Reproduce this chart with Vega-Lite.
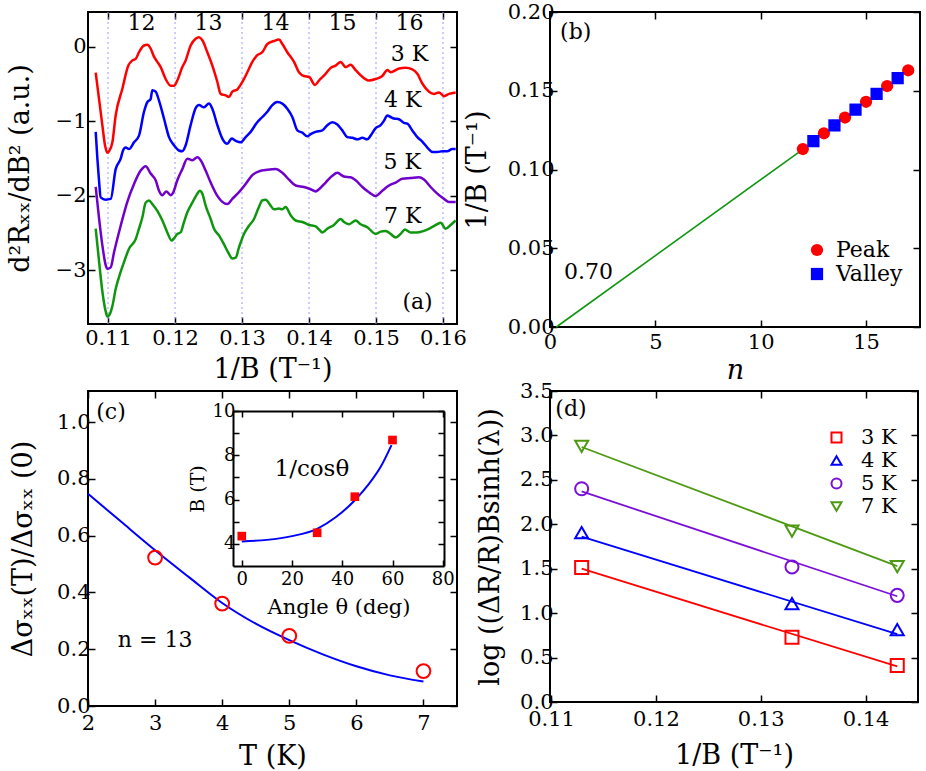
{
"$schema": "https://vega.github.io/schema/vega-lite/v6.json",
"background": "white",
"padding": {"left": 5, "top": 0, "right": 2, "bottom": 2},
"autosize": {"type": "pad"},
"bounds": "flush",
"columns": 2,
"spacing": {"row": 64, "column": 93},
"resolve": {"scale": {"color": "independent", "shape": "independent"}, "legend": {"color": "independent", "shape": "independent"}},
"datasets": {
  "dlines": [
      {"T":"3 K","x":0.11292,"y":1.50},{"T":"3 K","x":0.14302,"y":0.40},
      {"T":"4 K","x":0.11292,"y":1.86},{"T":"4 K","x":0.14302,"y":0.765},
      {"T":"5 K","x":0.11292,"y":2.37},{"T":"5 K","x":0.14302,"y":1.19},
      {"T":"7 K","x":0.11292,"y":2.87},{"T":"7 K","x":0.14302,"y":1.53}]
},
"config": {
  "view": {"stroke": "black", "strokeWidth": 2},
  "axis": {"domain": false, "grid": false, "tickColor": "black", "tickWidth": 1.5, "tickSize": -7, "labelFont": "DejaVu Serif, Liberation Serif, serif", "labelFontSize": 21, "labelColor": "black", "titleFont": "DejaVu Serif, Liberation Serif, serif", "titleFontSize": 27, "titleFontWeight": "normal", "titleColor": "black", "labelFlush": false, "labelOverlap": false, "labelBound": false, "labelPadding": 8, "titlePadding": 6},
  "legend": {"labelFont": "DejaVu Serif, Liberation Serif, serif", "labelColor": "black", "padding": 0},
  "text": {"font": "DejaVu Serif, Liberation Serif, serif", "color": "black"}
},
"concat": [
{
  "width": 369, "height": 312,
  "layer": [
    {"data": {"values": [{"x":0.11},{"x":0.12},{"x":0.13},{"x":0.14},{"x":0.15},{"x":0.16}]},
     "mark": {"type": "rule", "strokeDash": [2,3], "color": "#9a9aff", "strokeWidth": 1},
     "encoding": {"x": {"field": "x", "type": "quantitative", "scale": {"domain": [0.10701,0.16209], "nice": false, "zero": false},
        "axis": {"orient": "bottom", "values": [0.11,0.12,0.13,0.14,0.15,0.16], "format": ".2f", "title": "1/B (T⁻¹)", "labelPadding": 10, "titlePadding": 8}}}},
    {"data": {"values": [
{"s":"3 K","x":0.10816,"y":-0.345},{"s":"3 K","x":0.10866,"y":-0.70},{"s":"3 K","x":0.10915,"y":-1.05},{"s":"3 K","x":0.10955,"y":-1.32},{"s":"3 K","x":0.10990,"y":-1.42},{"s":"3 K","x":0.11015,"y":-1.40},{"s":"3 K","x":0.11065,"y":-1.28},{"s":"3 K","x":0.11114,"y":-0.92},{"s":"3 K","x":0.11214,"y":-0.56},{"s":"3 K","x":0.11303,"y":-0.25},{"s":"3 K","x":0.11363,"y":-0.18},{"s":"3 K","x":0.11413,"y":-0.16},{"s":"3 K","x":0.11462,"y":-0.07},{"s":"3 K","x":0.11537,"y":0.02},{"s":"3 K","x":0.11587,"y":0.03},{"s":"3 K","x":0.11636,"y":-0.02},{"s":"3 K","x":0.11686,"y":-0.13},{"s":"3 K","x":0.11736,"y":-0.20},{"s":"3 K","x":0.11786,"y":-0.27},{"s":"3 K","x":0.11860,"y":-0.43},{"s":"3 K","x":0.11935,"y":-0.52},{"s":"3 K","x":0.11985,"y":-0.52},{"s":"3 K","x":0.12034,"y":-0.45},{"s":"3 K","x":0.12109,"y":-0.27},{"s":"3 K","x":0.12159,"y":-0.18},{"s":"3 K","x":0.12233,"y":0.02},{"s":"3 K","x":0.12308,"y":0.11},{"s":"3 K","x":0.12358,"y":0.13},{"s":"3 K","x":0.12408,"y":0.09},{"s":"3 K","x":0.12482,"y":-0.07},{"s":"3 K","x":0.12557,"y":-0.25},{"s":"3 K","x":0.12632,"y":-0.47},{"s":"3 K","x":0.12681,"y":-0.63},{"s":"3 K","x":0.12756,"y":-0.65},{"s":"3 K","x":0.12806,"y":-0.67},{"s":"3 K","x":0.12855,"y":-0.60},{"s":"3 K","x":0.12930,"y":-0.57},{"s":"3 K","x":0.13005,"y":-0.47},{"s":"3 K","x":0.13079,"y":-0.34},{"s":"3 K","x":0.13154,"y":-0.20},{"s":"3 K","x":0.13228,"y":-0.11},{"s":"3 K","x":0.13303,"y":-0.07},{"s":"3 K","x":0.13378,"y":0.04},{"s":"3 K","x":0.13477,"y":0.08},{"s":"3 K","x":0.13552,"y":0.10},{"s":"3 K","x":0.13602,"y":0.04},{"s":"3 K","x":0.13676,"y":-0.07},{"s":"3 K","x":0.13776,"y":-0.20},{"s":"3 K","x":0.13850,"y":-0.34},{"s":"3 K","x":0.13925,"y":-0.39},{"s":"3 K","x":0.14000,"y":-0.40},{"s":"3 K","x":0.14089,"y":-0.51},{"s":"3 K","x":0.14149,"y":-0.45},{"s":"3 K","x":0.14248,"y":-0.36},{"s":"3 K","x":0.14323,"y":-0.28},{"s":"3 K","x":0.14398,"y":-0.25},{"s":"3 K","x":0.14472,"y":-0.20},{"s":"3 K","x":0.14547,"y":-0.27},{"s":"3 K","x":0.14622,"y":-0.24},{"s":"3 K","x":0.14696,"y":-0.31},{"s":"3 K","x":0.14796,"y":-0.40},{"s":"3 K","x":0.14895,"y":-0.45},{"s":"3 K","x":0.14995,"y":-0.43},{"s":"3 K","x":0.15094,"y":-0.39},{"s":"3 K","x":0.15169,"y":-0.31},{"s":"3 K","x":0.15218,"y":-0.34},{"s":"3 K","x":0.15343,"y":-0.29},{"s":"3 K","x":0.15442,"y":-0.28},{"s":"3 K","x":0.15542,"y":-0.30},{"s":"3 K","x":0.15617,"y":-0.36},{"s":"3 K","x":0.15691,"y":-0.49},{"s":"3 K","x":0.15791,"y":-0.60},{"s":"3 K","x":0.15865,"y":-0.63},{"s":"3 K","x":0.15940,"y":-0.61},{"s":"3 K","x":0.16015,"y":-0.66},{"s":"3 K","x":0.16089,"y":-0.63},{"s":"3 K","x":0.16189,"y":-0.61},
{"s":"4 K","x":0.10816,"y":-1.14},{"s":"4 K","x":0.10841,"y":-1.50},{"s":"4 K","x":0.10866,"y":-1.80},{"s":"4 K","x":0.10890,"y":-2.02},{"s":"4 K","x":0.10965,"y":-2.05},{"s":"4 K","x":0.11040,"y":-2.04},{"s":"4 K","x":0.11114,"y":-1.64},{"s":"4 K","x":0.11189,"y":-1.50},{"s":"4 K","x":0.11224,"y":-1.39},{"s":"4 K","x":0.11263,"y":-1.35},{"s":"4 K","x":0.11313,"y":-1.37},{"s":"4 K","x":0.11388,"y":-1.28},{"s":"4 K","x":0.11462,"y":-1.19},{"s":"4 K","x":0.11537,"y":-0.87},{"s":"4 K","x":0.11587,"y":-0.74},{"s":"4 K","x":0.11636,"y":-0.70},{"s":"4 K","x":0.11661,"y":-0.58},{"s":"4 K","x":0.11711,"y":-0.60},{"s":"4 K","x":0.11761,"y":-0.72},{"s":"4 K","x":0.11835,"y":-0.96},{"s":"4 K","x":0.11910,"y":-1.21},{"s":"4 K","x":0.11985,"y":-1.32},{"s":"4 K","x":0.12059,"y":-1.39},{"s":"4 K","x":0.12109,"y":-1.40},{"s":"4 K","x":0.12159,"y":-1.32},{"s":"4 K","x":0.12233,"y":-1.05},{"s":"4 K","x":0.12308,"y":-0.82},{"s":"4 K","x":0.12358,"y":-0.78},{"s":"4 K","x":0.12432,"y":-0.81},{"s":"4 K","x":0.12507,"y":-0.76},{"s":"4 K","x":0.12557,"y":-0.83},{"s":"4 K","x":0.12632,"y":-1.05},{"s":"4 K","x":0.12706,"y":-1.23},{"s":"4 K","x":0.12781,"y":-1.30},{"s":"4 K","x":0.12845,"y":-1.23},{"s":"4 K","x":0.12905,"y":-1.26},{"s":"4 K","x":0.12980,"y":-1.28},{"s":"4 K","x":0.13054,"y":-1.21},{"s":"4 K","x":0.13129,"y":-1.14},{"s":"4 K","x":0.13228,"y":-1.01},{"s":"4 K","x":0.13303,"y":-0.94},{"s":"4 K","x":0.13378,"y":-0.87},{"s":"4 K","x":0.13452,"y":-0.78},{"s":"4 K","x":0.13527,"y":-0.74},{"s":"4 K","x":0.13602,"y":-0.76},{"s":"4 K","x":0.13676,"y":-0.83},{"s":"4 K","x":0.13751,"y":-0.94},{"s":"4 K","x":0.13826,"y":-1.12},{"s":"4 K","x":0.13900,"y":-1.15},{"s":"4 K","x":0.13975,"y":-1.20},{"s":"4 K","x":0.14025,"y":-1.17},{"s":"4 K","x":0.14099,"y":-1.14},{"s":"4 K","x":0.14199,"y":-1.12},{"s":"4 K","x":0.14273,"y":-1.05},{"s":"4 K","x":0.14348,"y":-1.01},{"s":"4 K","x":0.14423,"y":-1.04},{"s":"4 K","x":0.14497,"y":-1.12},{"s":"4 K","x":0.14572,"y":-1.21},{"s":"4 K","x":0.14647,"y":-1.22},{"s":"4 K","x":0.14721,"y":-1.24},{"s":"4 K","x":0.14796,"y":-1.22},{"s":"4 K","x":0.14870,"y":-1.24},{"s":"4 K","x":0.14920,"y":-1.19},{"s":"4 K","x":0.14995,"y":-1.09},{"s":"4 K","x":0.15069,"y":-1.05},{"s":"4 K","x":0.15119,"y":-0.99},{"s":"4 K","x":0.15169,"y":-0.92},{"s":"4 K","x":0.15218,"y":-0.94},{"s":"4 K","x":0.15268,"y":-0.96},{"s":"4 K","x":0.15343,"y":-0.97},{"s":"4 K","x":0.15417,"y":-1.02},{"s":"4 K","x":0.15467,"y":-1.03},{"s":"4 K","x":0.15542,"y":-1.12},{"s":"4 K","x":0.15617,"y":-1.21},{"s":"4 K","x":0.15691,"y":-1.27},{"s":"4 K","x":0.15766,"y":-1.35},{"s":"4 K","x":0.15840,"y":-1.41},{"s":"4 K","x":0.15915,"y":-1.41},{"s":"4 K","x":0.15990,"y":-1.40},{"s":"4 K","x":0.16064,"y":-1.40},{"s":"4 K","x":0.16139,"y":-1.37},{"s":"4 K","x":0.16189,"y":-1.37},
{"s":"5 K","x":0.10816,"y":-1.88},{"s":"5 K","x":0.10866,"y":-2.30},{"s":"5 K","x":0.10915,"y":-2.66},{"s":"5 K","x":0.10965,"y":-2.93},{"s":"5 K","x":0.10990,"y":-2.98},{"s":"5 K","x":0.11040,"y":-2.96},{"s":"5 K","x":0.11089,"y":-2.76},{"s":"5 K","x":0.11189,"y":-2.40},{"s":"5 K","x":0.11288,"y":-2.08},{"s":"5 K","x":0.11388,"y":-1.84},{"s":"5 K","x":0.11487,"y":-1.66},{"s":"5 K","x":0.11562,"y":-1.60},{"s":"5 K","x":0.11636,"y":-1.70},{"s":"5 K","x":0.11711,"y":-1.79},{"s":"5 K","x":0.11761,"y":-1.93},{"s":"5 K","x":0.11811,"y":-1.99},{"s":"5 K","x":0.11870,"y":-1.94},{"s":"5 K","x":0.11935,"y":-1.99},{"s":"5 K","x":0.11970,"y":-1.96},{"s":"5 K","x":0.12034,"y":-1.79},{"s":"5 K","x":0.12109,"y":-1.64},{"s":"5 K","x":0.12184,"y":-1.50},{"s":"5 K","x":0.12258,"y":-1.52},{"s":"5 K","x":0.12333,"y":-1.48},{"s":"5 K","x":0.12383,"y":-1.52},{"s":"5 K","x":0.12457,"y":-1.66},{"s":"5 K","x":0.12532,"y":-1.82},{"s":"5 K","x":0.12632,"y":-2.00},{"s":"5 K","x":0.12706,"y":-2.08},{"s":"5 K","x":0.12781,"y":-2.11},{"s":"5 K","x":0.12855,"y":-2.04},{"s":"5 K","x":0.12955,"y":-1.95},{"s":"5 K","x":0.13054,"y":-1.84},{"s":"5 K","x":0.13154,"y":-1.72},{"s":"5 K","x":0.13253,"y":-1.67},{"s":"5 K","x":0.13378,"y":-1.65},{"s":"5 K","x":0.13502,"y":-1.64},{"s":"5 K","x":0.13602,"y":-1.69},{"s":"5 K","x":0.13701,"y":-1.78},{"s":"5 K","x":0.13801,"y":-1.86},{"s":"5 K","x":0.13925,"y":-1.88},{"s":"5 K","x":0.14025,"y":-1.91},{"s":"5 K","x":0.14099,"y":-1.94},{"s":"5 K","x":0.14149,"y":-1.91},{"s":"5 K","x":0.14248,"y":-1.82},{"s":"5 K","x":0.14348,"y":-1.73},{"s":"5 K","x":0.14423,"y":-1.69},{"s":"5 K","x":0.14522,"y":-1.74},{"s":"5 K","x":0.14622,"y":-1.75},{"s":"5 K","x":0.14696,"y":-1.79},{"s":"5 K","x":0.14796,"y":-1.88},{"s":"5 K","x":0.14895,"y":-1.95},{"s":"5 K","x":0.14995,"y":-2.00},{"s":"5 K","x":0.15094,"y":-1.93},{"s":"5 K","x":0.15194,"y":-1.86},{"s":"5 K","x":0.15293,"y":-1.82},{"s":"5 K","x":0.15393,"y":-1.77},{"s":"5 K","x":0.15517,"y":-1.76},{"s":"5 K","x":0.15641,"y":-1.75},{"s":"5 K","x":0.15716,"y":-1.78},{"s":"5 K","x":0.15815,"y":-1.88},{"s":"5 K","x":0.15915,"y":-1.97},{"s":"5 K","x":0.16015,"y":-2.04},{"s":"5 K","x":0.16089,"y":-2.08},{"s":"5 K","x":0.16189,"y":-2.08},
{"s":"7 K","x":0.10816,"y":-2.44},{"s":"7 K","x":0.10866,"y":-2.88},{"s":"7 K","x":0.10915,"y":-3.28},{"s":"7 K","x":0.10965,"y":-3.55},{"s":"7 K","x":0.10990,"y":-3.62},{"s":"7 K","x":0.11025,"y":-3.59},{"s":"7 K","x":0.11065,"y":-3.48},{"s":"7 K","x":0.11114,"y":-3.25},{"s":"7 K","x":0.11164,"y":-3.09},{"s":"7 K","x":0.11238,"y":-2.89},{"s":"7 K","x":0.11313,"y":-2.71},{"s":"7 K","x":0.11413,"y":-2.58},{"s":"7 K","x":0.11462,"y":-2.44},{"s":"7 K","x":0.11512,"y":-2.29},{"s":"7 K","x":0.11562,"y":-2.09},{"s":"7 K","x":0.11612,"y":-2.06},{"s":"7 K","x":0.11661,"y":-2.11},{"s":"7 K","x":0.11736,"y":-2.20},{"s":"7 K","x":0.11811,"y":-2.33},{"s":"7 K","x":0.11885,"y":-2.49},{"s":"7 K","x":0.11950,"y":-2.60},{"s":"7 K","x":0.11985,"y":-2.57},{"s":"7 K","x":0.12034,"y":-2.51},{"s":"7 K","x":0.12084,"y":-2.49},{"s":"7 K","x":0.12134,"y":-2.35},{"s":"7 K","x":0.12184,"y":-2.22},{"s":"7 K","x":0.12258,"y":-2.09},{"s":"7 K","x":0.12333,"y":-1.97},{"s":"7 K","x":0.12368,"y":-1.93},{"s":"7 K","x":0.12408,"y":-1.97},{"s":"7 K","x":0.12457,"y":-2.13},{"s":"7 K","x":0.12532,"y":-2.31},{"s":"7 K","x":0.12582,"y":-2.44},{"s":"7 K","x":0.12656,"y":-2.53},{"s":"7 K","x":0.12731,"y":-2.65},{"s":"7 K","x":0.12806,"y":-2.78},{"s":"7 K","x":0.12855,"y":-2.84},{"s":"7 K","x":0.12905,"y":-2.83},{"s":"7 K","x":0.12955,"y":-2.69},{"s":"7 K","x":0.13029,"y":-2.51},{"s":"7 K","x":0.13104,"y":-2.40},{"s":"7 K","x":0.13179,"y":-2.31},{"s":"7 K","x":0.13243,"y":-2.17},{"s":"7 K","x":0.13303,"y":-2.06},{"s":"7 K","x":0.13353,"y":-2.05},{"s":"7 K","x":0.13427,"y":-2.13},{"s":"7 K","x":0.13477,"y":-2.18},{"s":"7 K","x":0.13552,"y":-2.17},{"s":"7 K","x":0.13602,"y":-2.18},{"s":"7 K","x":0.13651,"y":-2.15},{"s":"7 K","x":0.13726,"y":-2.26},{"s":"7 K","x":0.13801,"y":-2.33},{"s":"7 K","x":0.13900,"y":-2.35},{"s":"7 K","x":0.14000,"y":-2.39},{"s":"7 K","x":0.14099,"y":-2.41},{"s":"7 K","x":0.14149,"y":-2.45},{"s":"7 K","x":0.14199,"y":-2.49},{"s":"7 K","x":0.14273,"y":-2.44},{"s":"7 K","x":0.14373,"y":-2.39},{"s":"7 K","x":0.14472,"y":-2.31},{"s":"7 K","x":0.14522,"y":-2.35},{"s":"7 K","x":0.14597,"y":-2.38},{"s":"7 K","x":0.14696,"y":-2.33},{"s":"7 K","x":0.14771,"y":-2.38},{"s":"7 K","x":0.14870,"y":-2.42},{"s":"7 K","x":0.14995,"y":-2.51},{"s":"7 K","x":0.15069,"y":-2.48},{"s":"7 K","x":0.15144,"y":-2.47},{"s":"7 K","x":0.15218,"y":-2.51},{"s":"7 K","x":0.15293,"y":-2.56},{"s":"7 K","x":0.15367,"y":-2.51},{"s":"7 K","x":0.15432,"y":-2.45},{"s":"7 K","x":0.15517,"y":-2.49},{"s":"7 K","x":0.15617,"y":-2.49},{"s":"7 K","x":0.15716,"y":-2.47},{"s":"7 K","x":0.15815,"y":-2.43},{"s":"7 K","x":0.15915,"y":-2.38},{"s":"7 K","x":0.15964,"y":-2.36},{"s":"7 K","x":0.16039,"y":-2.44},{"s":"7 K","x":0.16114,"y":-2.39},{"s":"7 K","x":0.16189,"y":-2.33}
    ]},
     "mark": {"type": "line", "strokeWidth": 2.5, "interpolate": "monotone"},
     "encoding": {
       "x": {"field": "x", "type": "quantitative", "scale": {"domain": [0.10701,0.16209], "nice": false, "zero": false}, "axis": null},
       "y": {"field": "y", "type": "quantitative", "scale": {"domain": [-3.72,0.47], "nice": false, "zero": false},
         "axis": {"orient": "left", "values": [0,-1,-2,-3], "format": "d", "title": "d²Rₓₓ/dB² (a.u.)", "labelPadding": 9, "titlePadding": 21}},
       "color": {"field": "s", "type": "nominal", "scale": {"domain": ["3 K","4 K","5 K","7 K"], "range": ["#ff0000","#0000ff","#7000cc","#0f960f"]}, "legend": null}
     }},
    {"data": {"values": [
      {"x":0.1550,"y":-0.09,"t":"3 K"},{"x":0.1540,"y":-0.717,"t":"4 K"},{"x":0.1539,"y":-1.547,"t":"5 K"},{"x":0.1540,"y":-2.265,"t":"7 K"},{"x":0.1562,"y":-3.43,"t":"(a)"},
      {"x":0.115,"y":0.327,"t":"12"},{"x":0.125,"y":0.327,"t":"13"},{"x":0.135,"y":0.327,"t":"14"},{"x":0.145,"y":0.327,"t":"15"},{"x":0.155,"y":0.327,"t":"16"}]},
     "mark": {"type": "text", "fontSize": 22, "align": "center", "baseline": "middle", "color": "black"},
     "encoding": {
       "x": {"field": "x", "type": "quantitative", "scale": {"domain": [0.10701,0.16209], "nice": false, "zero": false}, "axis": null},
       "y": {"field": "y", "type": "quantitative", "scale": {"domain": [-3.72,0.47], "nice": false, "zero": false}, "axis": null},
       "text": {"field": "t"}
     }},
    {"data": {"values": [{"x":0.11,"y":0}]},
     "mark": {"type": "point", "opacity": 0},
     "encoding": {
       "x": {"field": "x", "type": "quantitative", "scale": {"domain": [0.10701,0.16209], "nice": false, "zero": false}, "axis": {"orient": "top", "values": [0.11,0.12,0.13,0.14,0.15,0.16], "labels": false, "title": null}},
       "y": {"field": "y", "type": "quantitative", "scale": {"domain": [-3.72,0.47], "nice": false, "zero": false}, "axis": {"orient": "right", "values": [0,-1,-2,-3], "labels": false, "title": null}}
     }}
  ],
  "resolve": {"axis": {"x": "independent", "y": "independent"}}
},
{
  "width": 370, "height": 315,
  "layer": [
    {"data": {"values": [{"n":0.3,"v":0},{"n":12,"v":0.1128}]},
     "mark": {"type": "line", "color": "#109610", "strokeWidth": 1.6},
     "encoding": {
       "x": {"field": "n", "type": "quantitative", "scale": {"domain": [0,17.56], "nice": false, "zero": false},
         "axis": {"orient": "bottom", "values": [0,5,10,15], "format": "d", "title": "n", "titleFontStyle": "italic", "labelPadding": 11, "titlePadding": 5}},
       "y": {"field": "v", "type": "quantitative", "scale": {"domain": [0,0.2], "nice": false, "zero": false},
         "axis": {"orient": "left", "values": [0,0.05,0.1,0.15,0.2], "format": ".2f", "title": "1/B (T⁻¹)", "labelPadding": 3, "titlePadding": 16}}
     }},
    {"data": {"values": [
      {"n":12,"v":0.113,"t":"Peak"},{"n":13,"v":0.123,"t":"Peak"},{"n":14,"v":0.133,"t":"Peak"},{"n":15,"v":0.143,"t":"Peak"},{"n":16,"v":0.153,"t":"Peak"},{"n":17,"v":0.163,"t":"Peak"},
      {"n":12.5,"v":0.118,"t":"Valley"},{"n":13.5,"v":0.128,"t":"Valley"},{"n":14.5,"v":0.138,"t":"Valley"},{"n":15.5,"v":0.148,"t":"Valley"},{"n":16.5,"v":0.158,"t":"Valley"}]},
     "mark": {"type": "point", "filled": true, "opacity": 1, "size": 150, "strokeWidth": 0},
     "encoding": {
       "x": {"field": "n", "type": "quantitative", "scale": {"domain": [0,17.56], "nice": false, "zero": false}, "axis": null},
       "y": {"field": "v", "type": "quantitative", "scale": {"domain": [0,0.2], "nice": false, "zero": false}, "axis": null},
       "color": {"field": "t", "type": "nominal", "scale": {"domain": ["Peak","Valley"], "range": ["#ff0000","#0000ff"]},
         "legend": {"orient": "none", "legendX": 256, "legendY": 227, "title": null, "labelFontSize": 22, "symbolSize": 150, "labelOffset": 8, "rowPadding": 2, "symbolOpacity": 1}},
       "shape": {"field": "t", "type": "nominal", "scale": {"domain": ["Peak","Valley"], "range": ["circle","square"]},
         "legend": {"orient": "none", "legendX": 256, "legendY": 227, "title": null, "labelFontSize": 22, "symbolSize": 150, "labelOffset": 8, "rowPadding": 2, "symbolOpacity": 1}}
     }},
    {"data": {"values": [{"n":1.22,"v":0.187,"t":"(b)"},{"n":1.83,"v":0.0349,"t":"0.70"}]},
     "mark": {"type": "text", "fontSize": 22, "align": "center", "baseline": "middle", "color": "black"},
     "encoding": {
       "x": {"field": "n", "type": "quantitative", "scale": {"domain": [0,17.56], "nice": false, "zero": false}, "axis": null},
       "y": {"field": "v", "type": "quantitative", "scale": {"domain": [0,0.2], "nice": false, "zero": false}, "axis": null},
       "text": {"field": "t"}
     }},
    {"data": {"values": [{"n":0,"v":0}]},
     "mark": {"type": "point", "opacity": 0},
     "encoding": {
       "x": {"field": "n", "type": "quantitative", "scale": {"domain": [0,17.56], "nice": false, "zero": false}, "axis": {"orient": "top", "values": [0,5,10,15], "labels": false, "title": null}},
       "y": {"field": "v", "type": "quantitative", "scale": {"domain": [0,0.2], "nice": false, "zero": false}, "axis": {"orient": "right", "values": [0,0.05,0.1,0.15,0.2], "labels": false, "title": null}}
     }}
  ],
  "resolve": {"axis": {"x": "independent", "y": "independent"}}
},
{
  "width": 369, "height": 315,
  "layer": [
    {"layer": [
      {"data": {"values": [{"T":2,"s":0.748},{"T":2.5,"s":0.648},{"T":3,"s":0.549},{"T":3.5,"s":0.455},{"T":4,"s":0.363},{"T":4.5,"s":0.29},{"T":5,"s":0.232},{"T":5.5,"s":0.182},{"T":6,"s":0.14},{"T":6.5,"s":0.108},{"T":7,"s":0.086}]},
       "mark": {"type": "line", "color": "#0000ff", "strokeWidth": 2, "interpolate": "monotone"},
       "encoding": {
         "x": {"field": "T", "type": "quantitative", "scale": {"domain": [2,7.5], "nice": false, "zero": false},
           "axis": {"orient": "bottom", "values": [2,3,4,5,6,7], "format": "d", "title": "T (K)", "labelPadding": 13, "titlePadding": 10}},
         "y": {"field": "s", "type": "quantitative", "scale": {"domain": [0,1.11], "nice": false, "zero": false},
           "axis": {"orient": "left", "values": [0,0.2,0.4,0.6,0.8,1.0], "format": ".1f", "title": "Δσₓₓ(T)/Δσₓₓ (0)", "labelPadding": 5, "titlePadding": 19}}
       }},
      {"data": {"values": [{"T":3,"s":0.523},{"T":4,"s":0.361},{"T":5,"s":0.247},{"T":7,"s":0.123}]},
       "mark": {"type": "point", "filled": false, "color": "#ff0000", "strokeWidth": 2, "size": 190, "opacity": 1},
       "encoding": {
         "x": {"field": "T", "type": "quantitative", "scale": {"domain": [2,7.5], "nice": false, "zero": false}, "axis": null},
         "y": {"field": "s", "type": "quantitative", "scale": {"domain": [0,1.11], "nice": false, "zero": false}, "axis": null}
       }},
      {"data": {"values": [{"T":2.343,"s":1.036,"t":"(c)"},{"T":3.0,"s":0.234,"t":"n = 13"}]},
       "mark": {"type": "text", "fontSize": 22, "align": "center", "baseline": "middle", "color": "black"},
       "encoding": {
         "x": {"field": "T", "type": "quantitative", "scale": {"domain": [2,7.5], "nice": false, "zero": false}, "axis": null},
         "y": {"field": "s", "type": "quantitative", "scale": {"domain": [0,1.11], "nice": false, "zero": false}, "axis": null},
         "text": {"field": "t"}
       }},
      {"data": {"values": [{"T":2,"s":0}]},
       "mark": {"type": "point", "opacity": 0},
       "encoding": {
         "x": {"field": "T", "type": "quantitative", "scale": {"domain": [2,7.5], "nice": false, "zero": false}, "axis": {"orient": "top", "values": [2,3,4,5,6,7], "labels": false, "title": null}},
         "y": {"field": "s", "type": "quantitative", "scale": {"domain": [0,1.11], "nice": false, "zero": false}, "axis": {"orient": "right", "values": [0,0.2,0.4,0.6,0.8,1.0], "labels": false, "title": null}}
       }}
    ], "resolve": {"axis": {"x": "independent", "y": "independent"}}},
    {"layer": [
      {"data": {"values": [{"a":0,"b":4.11},{"a":10,"b":4.18},{"a":20,"b":4.35},{"a":30,"b":4.68},{"a":37.5,"b":5.21},{"a":45,"b":5.97},{"a":50.7,"b":6.72},{"a":55.3,"b":7.48},{"a":59.6,"b":8.46}]},
       "mark": {"type": "line", "color": "#0000ff", "strokeWidth": 2, "interpolate": "monotone"},
       "encoding": {
         "x": {"field": "a", "type": "quantitative", "scale": {"domain": [-3.5,80.5], "range": [145,356], "nice": false, "zero": false},
           "axis": {"orient": "bottom", "offset": -140, "values": [0,20,40,60,80], "format": "d", "title": "Angle θ (deg)", "domain": true, "domainColor": "black", "domainWidth": 2, "tickSize": -6, "labelFontSize": 18, "titleFontSize": 21, "labelPadding": 10, "titlePadding": 8}},
         "y": {"field": "b", "type": "quantitative", "scale": {"domain": [3,10], "range": [175,20], "nice": false, "zero": false},
           "axis": {"orient": "left", "offset": -145, "values": [4,5,6,7,8,9,10], "labelExpr": "datum.value % 2 == 0 ? datum.label : ''", "title": "B (T)", "domain": true, "domainColor": "black", "domainWidth": 2, "tickSize": -6, "labelFontSize": 18, "titleFontSize": 19, "labelPadding": 4, "titlePadding": 5}}
       }},
      {"data": {"values": [{"a":0,"b":4.35},{"a":30,"b":4.5},{"a":45,"b":6.13},{"a":60,"b":8.69}]},
       "mark": {"type": "square", "color": "#ff0000", "size": 75, "opacity": 1},
       "encoding": {
         "x": {"field": "a", "type": "quantitative", "scale": {"domain": [-3.5,80.5], "range": [145,356], "nice": false, "zero": false}, "axis": null},
         "y": {"field": "b", "type": "quantitative", "scale": {"domain": [3,10], "range": [175,20], "nice": false, "zero": false}, "axis": null}
       }},
      {"data": {"values": [{"a":27.9,"b":7.4,"t":"1/cosθ"}]},
       "mark": {"type": "text", "fontSize": 23, "align": "center", "baseline": "middle", "color": "black"},
       "encoding": {
         "x": {"field": "a", "type": "quantitative", "scale": {"domain": [-3.5,80.5], "range": [145,356], "nice": false, "zero": false}, "axis": null},
         "y": {"field": "b", "type": "quantitative", "scale": {"domain": [3,10], "range": [175,20], "nice": false, "zero": false}, "axis": null},
         "text": {"field": "t"}
       }},
      {"data": {"values": [{"a":0,"b":4}]},
       "mark": {"type": "point", "opacity": 0},
       "encoding": {
         "x": {"field": "a", "type": "quantitative", "scale": {"domain": [-3.5,80.5], "range": [145,356], "nice": false, "zero": false},
           "axis": {"orient": "top", "offset": -20, "values": [0,20,40,60,80], "labels": false, "title": null, "domain": true, "domainColor": "black", "domainWidth": 2, "tickSize": -6}},
         "y": {"field": "b", "type": "quantitative", "scale": {"domain": [3,10], "range": [175,20], "nice": false, "zero": false},
           "axis": {"orient": "right", "offset": -13, "values": [4,5,6,7,8,9,10], "labels": false, "title": null, "domain": true, "domainColor": "black", "domainWidth": 2, "tickSize": -6}}
       }}
    ], "resolve": {"axis": {"x": "independent", "y": "independent"}}}
  ],
  "resolve": {"scale": {"x": "independent", "y": "independent"}, "axis": {"x": "independent", "y": "independent"}}
},
{
  "width": 368, "height": 311,
  "layer": [
    {"data": {"name": "dlines"}, "transform": [{"filter": "datum.T == '3 K'"}],
     "mark": {"type": "line", "strokeWidth": 1.8, "color": "#ff0000"},
     "encoding": {
       "x": {"field": "x", "type": "quantitative", "scale": {"domain": [0.1099,0.145], "nice": false, "zero": false},
         "axis": {"orient": "bottom", "values": [0.11,0.12,0.13,0.14], "format": ".2f", "title": "1/B (T⁻¹)", "labelPadding": 13, "titlePadding": 13}},
       "y": {"field": "y", "type": "quantitative", "scale": {"domain": [0,3.5], "nice": false, "zero": false},
         "axis": {"orient": "left", "values": [0,0.5,1,1.5,2,2.5,3,3.5], "format": ".1f", "title": "log ((ΔR/R)Bsinh(λ))", "labelPadding": 4, "titlePadding": 15}}
     }},
    {"data": {"name": "dlines"}, "transform": [{"filter": "datum.T == '4 K'"}],
     "mark": {"type": "line", "strokeWidth": 1.8, "color": "#0000ff"},
     "encoding": {
       "x": {"field": "x", "type": "quantitative", "scale": {"domain": [0.1099,0.145], "nice": false, "zero": false}, "axis": null},
       "y": {"field": "y", "type": "quantitative", "scale": {"domain": [0,3.5], "nice": false, "zero": false}, "axis": null}
     }},
    {"data": {"name": "dlines"}, "transform": [{"filter": "datum.T == '5 K'"}],
     "mark": {"type": "line", "strokeWidth": 1.8, "color": "#7a10d8"},
     "encoding": {
       "x": {"field": "x", "type": "quantitative", "scale": {"domain": [0.1099,0.145], "nice": false, "zero": false}, "axis": null},
       "y": {"field": "y", "type": "quantitative", "scale": {"domain": [0,3.5], "nice": false, "zero": false}, "axis": null}
     }},
    {"data": {"name": "dlines"}, "transform": [{"filter": "datum.T == '7 K'"}],
     "mark": {"type": "line", "strokeWidth": 1.8, "color": "#4d9a12"},
     "encoding": {
       "x": {"field": "x", "type": "quantitative", "scale": {"domain": [0.1099,0.145], "nice": false, "zero": false}, "axis": null},
       "y": {"field": "y", "type": "quantitative", "scale": {"domain": [0,3.5], "nice": false, "zero": false}, "axis": null}
     }},
    {"data": {"values": [
      {"T":"3 K","x":0.11292,"y":1.513},{"T":"3 K","x":0.13298,"y":0.728},{"T":"3 K","x":0.14302,"y":0.41},
      {"T":"4 K","x":0.11292,"y":1.905},{"T":"4 K","x":0.13298,"y":1.106},{"T":"4 K","x":0.14302,"y":0.815},
      {"T":"5 K","x":0.11292,"y":2.40},{"T":"5 K","x":0.13298,"y":1.52},{"T":"5 K","x":0.14302,"y":1.20},
      {"T":"7 K","x":0.11292,"y":2.877},{"T":"7 K","x":0.13298,"y":1.924},{"T":"7 K","x":0.14302,"y":1.524}]},
     "mark": {"type": "point", "filled": false, "strokeWidth": 2, "size": 170, "opacity": 1},
     "encoding": {
       "x": {"field": "x", "type": "quantitative", "scale": {"domain": [0.1099,0.145], "nice": false, "zero": false}, "axis": null},
       "y": {"field": "y", "type": "quantitative", "scale": {"domain": [0,3.5], "nice": false, "zero": false}, "axis": null},
       "color": {"field": "T", "type": "nominal", "scale": {"domain": ["3 K","4 K","5 K","7 K"], "range": ["#ff0000","#0000ff","#7a10d8","#4d9a12"]},
         "legend": {"orient": "none", "legendX": 276, "legendY": 36, "title": null, "labelFontSize": 21, "symbolSize": 100, "symbolStrokeWidth": 2, "labelOffset": 14, "rowPadding": 1}},
       "shape": {"field": "T", "type": "nominal", "scale": {"domain": ["3 K","4 K","5 K","7 K"], "range": ["square","triangle-up","circle","triangle-down"]},
         "legend": {"orient": "none", "legendX": 276, "legendY": 36, "title": null, "labelFontSize": 21, "symbolSize": 100, "symbolStrokeWidth": 2, "labelOffset": 14, "rowPadding": 1}}
     }},
    {"data": {"values": [{"x":0.1119,"y":3.30,"t":"(d)"}]},
     "mark": {"type": "text", "fontSize": 22, "align": "center", "baseline": "middle", "color": "black"},
     "encoding": {
       "x": {"field": "x", "type": "quantitative", "scale": {"domain": [0.1099,0.145], "nice": false, "zero": false}, "axis": null},
       "y": {"field": "y", "type": "quantitative", "scale": {"domain": [0,3.5], "nice": false, "zero": false}, "axis": null},
       "text": {"field": "t"}
     }},
    {"data": {"values": [{"x":0.11,"y":0}]},
     "mark": {"type": "point", "opacity": 0},
     "encoding": {
       "x": {"field": "x", "type": "quantitative", "scale": {"domain": [0.1099,0.145], "nice": false, "zero": false}, "axis": {"orient": "top", "values": [0.11,0.12,0.13,0.14], "labels": false, "title": null}},
       "y": {"field": "y", "type": "quantitative", "scale": {"domain": [0,3.5], "nice": false, "zero": false}, "axis": {"orient": "right", "values": [0,0.5,1,1.5,2,2.5,3,3.5], "labels": false, "title": null}}
     }}
  ],
  "resolve": {"axis": {"x": "independent", "y": "independent"}}
}
]
}
